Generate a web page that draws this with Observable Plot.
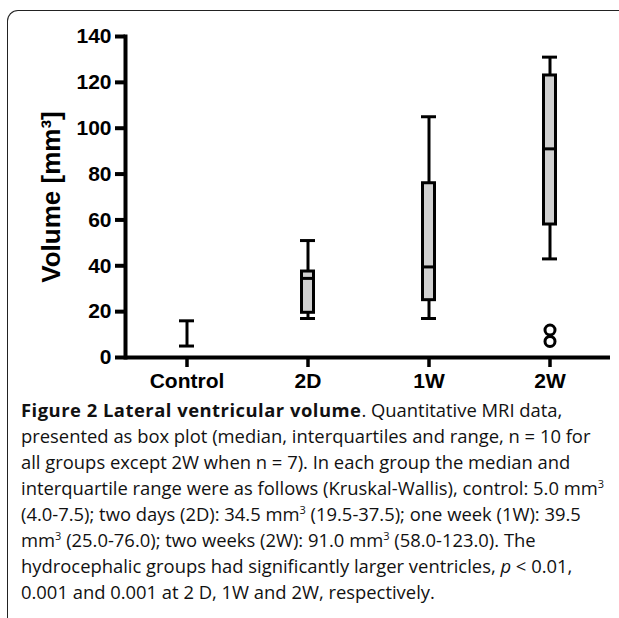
<!DOCTYPE html>
<html>
<head>
<meta charset="utf-8">
<script src="https://cdn.jsdelivr.net/npm/d3@7"></script>
<script src="https://cdn.jsdelivr.net/npm/@observablehq/plot@0.6"></script>
<style>
  html, body { margin: 0; padding: 0; background: #fff; }
  #page { position: relative; width: 619px; height: 618px; overflow: hidden; }
  #frame { position: absolute; left: 7px; top: 10px; width: 640px; height: 640px;
           border-top: 1.5px solid #222; border-left: 1.5px solid #222; border-top-left-radius: 11px; }
  #chart { position: absolute; left: 0; top: 0; }
  #caption { position: absolute; left: 21px; top: 397px; font-family: "Open Sans", sans-serif;
             font-size: 18.4px; line-height: 26px; color: #111; white-space: nowrap; }
  #caption b { letter-spacing: 0.5px; }
  #caption sup { font-size: 11px; line-height: 0; }
</style>
</head>
<body>
<div id="page">
  <div id="frame"></div>
  <div id="chart"></div>
  <div id="caption">
    <b>Figure 2 Lateral ventricular volume</b>. Quantitative MRI data,<br>
    presented as box plot (median, interquartiles and range, n = 10 for<br>
    all groups except 2W when n = 7). In each group the median and<br>
    interquartile range were as follows (Kruskal-Wallis), control: 5.0 mm<sup>3</sup><br>
    (4.0-7.5); two days (2D): 34.5 mm<sup>3</sup> (19.5-37.5); one week (1W): 39.5<br>
    mm<sup>3</sup> (25.0-76.0); two weeks (2W): 91.0 mm<sup>3</sup> (58.0-123.0). The<br>
    hydrocephalic groups had significantly larger ventricles, <i>p</i> &lt; 0.01,<br>
    0.001 and 0.001 at 2 D, 1W and 2W, respectively.
  </div>
</div>
<script>
const groups = ["Control", "2D", "1W", "2W"];
const whiskerLow = [5, 17, 17, 43];
const q1 = [null, 19.5, 25, 58];
const median = [null, 34.5, 39.5, 91];
const q3 = [null, 37.5, 76, 123];
const whiskerHigh = [16, 51, 105, 131];
const outlierGroups = ["2W", "2W"];
const outlierValues = [12, 7];
const yTicks = [0, 20, 40, 60, 80, 100, 120, 140];
const yLabel = "Volume [mm³]";

const rows = groups.map((g, i) => ({group: g, lo: whiskerLow[i], q1: q1[i], med: median[i], q3: q3[i], hi: whiskerHigh[i]}));
const boxes = rows.filter(d => d.q1 != null);
const outliers = outlierValues.map((v, i) => ({group: outlierGroups[i], value: v}));

const fontFamily = "'Liberation Sans', Arial, sans-serif";

const chart = Plot.plot({
  width: 619,
  height: 395,
  marginLeft: 125,
  marginRight: 9,
  marginTop: 36,
  marginBottom: 38,
  style: {background: "transparent", fontFamily, fontSize: "21px", fontWeight: "bold", color: "#000"},
  x: {domain: groups, padding: 0, label: null},
  y: {domain: [0, 140], label: null},
  marks: [
    Plot.ruleX(rows, {x: "group", y1: "lo", y2: "hi", stroke: "#000", strokeWidth: 3}),
    Plot.tickY(rows, {x: "group", y: "lo", stroke: "#000", strokeWidth: 3, insetLeft: 53, insetRight: 53}),
    Plot.tickY(rows, {x: "group", y: "hi", stroke: "#000", strokeWidth: 3, insetLeft: 53, insetRight: 53}),
    Plot.barY(boxes, {x: "group", y1: "q1", y2: "q3", fill: "#d0d0d0", stroke: "#000", strokeWidth: 3, insetLeft: 54.5, insetRight: 54.5}),
    Plot.tickY(boxes, {x: "group", y: "med", stroke: "#000", strokeWidth: 3, insetLeft: 54.5, insetRight: 54.5}),
    Plot.dot(outliers, {x: "group", y: "value", r: 5, fill: "#fff", stroke: "#000", strokeWidth: 3}),
    Plot.axisY({ticks: yTicks, tickSize: 10, tickPadding: 4, strokeWidth: 4, label: null, fontSize: 21, fontWeight: "bold"}),
    Plot.axisX({tickSize: 10, tickPadding: 6, strokeWidth: 3.5, label: null, fontSize: 21, fontWeight: "bold"}),
    Plot.frame({anchor: "left", stroke: "#000", strokeWidth: 4}),
    Plot.ruleY([0], {stroke: "#000", strokeWidth: 4}),
    Plot.text([yLabel], {frameAnchor: "left", dx: -74, rotate: -90, textAnchor: "middle", lineAnchor: "middle", fontSize: 26, fontWeight: "bold", fill: "#000"})
  ]
});
document.getElementById("chart").appendChild(chart);
</script>
</body>
</html>
